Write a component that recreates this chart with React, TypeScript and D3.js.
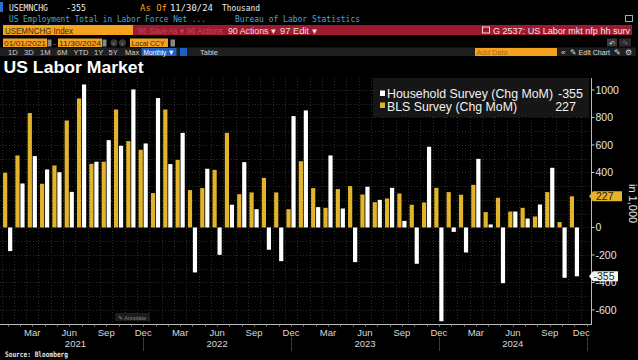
import React from "react";
import * as d3 from "d3";

const W = 638;
const H = 360;

// Categories (monthly, Jan 2021 – Nov 2024) and axis months (axis runs to Dec 2024)
const months = [
  "2021-01","2021-02","2021-03","2021-04","2021-05","2021-06","2021-07","2021-08","2021-09","2021-10","2021-11","2021-12",
  "2022-01","2022-02","2022-03","2022-04","2022-05","2022-06","2022-07","2022-08","2022-09","2022-10","2022-11","2022-12",
  "2023-01","2023-02","2023-03","2023-04","2023-05","2023-06","2023-07","2023-08","2023-09","2023-10","2023-11","2023-12",
  "2024-01","2024-02","2024-03","2024-04","2024-05","2024-06","2024-07","2024-08","2024-09","2024-10","2024-11",
];
const axisMonths = [...months, "2024-12"];

// Household Survey (Chg MoM), thousands
const household = [
  -172, 320, 519, 422, 402, 259, 1040, 478, 635, 594, 1004, 611,
  941, 461, 688, -327, 427, -199, 165, 475, 133, -162, -245, 810,
  851, 148, 524, 138, -252, 296, 201, 288, 48, -264, 587, -682,
  -32, -182, 499, 22, -405, 116, 65, 167, 434, -366, -355,
];

// BLS Survey (Chg MoM), thousands
const bls = [
  398, 524, 832, 318, 451, 778, 938, 463, 478, 858, 628, 565,
  250, 858, 492, 272, 286, 419, 688, 242, 255, 361, 255, 133,
  482, 286, 143, 279, 301, 240, 184, 211, 247, 165, 182, 288,
  257, 238, 310, 112, 216, 116, 143, 80, 257, 39, 227,
];

const yTicks = [1000, 800, 600, 400, 200, 0, -200, -400, -600];
const hiddenTickLabels = [200]; // covered by the last-value tag in the reference
const monthTickNames: Record<string, string> = { "03": "Mar", "06": "Jun", "09": "Sep", "12": "Dec" };
const years = ["2021", "2022", "2023", "2024"];

const lastHousehold = household[household.length - 1];
const lastBls = bls[bls.length - 1];

const YELLOW = "#E2B42A";
const ORANGE = "#F4A320";
const RED = "#9E1A2E";
const CYAN = "#4AA6D6";

export default function App() {
  const x = d3.scaleBand<string>().domain(axisMonths).range([1.5, 592.9]).paddingInner(0).paddingOuter(0);
  const y = d3.scaleLinear().domain([-702, 1087]).range([324, 78]);
  const axisX = 591;
  const plotTop = 78;
  const plotBottom = 324;
  const bw = 4.2;
  const cx = (m: string) => (x(m) as number) + x.bandwidth() / 2;

  const hGrid = d3.range(-700, 1100, 100);
  const vGrid = axisMonths.map((m) => x(m) as number);

  const fontSans = "'Liberation Sans', Arial, sans-serif";
  const fontMono = "'DejaVu Sans Mono', monospace";

  const pointerBox = (yy: number, w: number) =>
    `M${axisX - 2},${yy} L${axisX + 2},${yy - 5} L${axisX + 2 + w},${yy - 5} L${axisX + 2 + w},${yy + 5} L${axisX + 2},${yy + 5} Z`;

  return (
    <svg width={W} height={H} style={{ display: "block", position: "absolute", left: 0, top: 0, background: "#000" }}>
      <rect x={0} y={0} width={W} height={H} fill="#000" />

      {/* Header row 1 */}
      <rect x={0} y={2} width={3} height={10} fill="#2a6fd6" />
      <g fontFamily={fontMono} fontSize={9} fill="#eee">
        <text x={9} y={11} textLength={39} lengthAdjust="spacingAndGlyphs">USEMNCHG</text>
        <text x={66} y={11} textLength={20} lengthAdjust="spacingAndGlyphs">-355</text>
        <text x={140} y={11} textLength={27} lengthAdjust="spacingAndGlyphs" fill={ORANGE}>As Of</text>
        <text x={170} y={11} textLength={43} lengthAdjust="spacingAndGlyphs">11/30/24</text>
        <text x={222} y={11} textLength={38} lengthAdjust="spacingAndGlyphs">Thousand</text>
        <text x={9} y={22} textLength={197} lengthAdjust="spacingAndGlyphs" fill={CYAN}>US Employment Total in Labor Force Net ...</text>
        <text x={235} y={22} textLength={125} lengthAdjust="spacingAndGlyphs" fill={CYAN}>Bureau of Labor Statistics</text>
      </g>
      <rect x={625.5} y={15.5} width={7} height={6} fill="none" stroke="#aaa" strokeWidth={1} />

      {/* Header row 3 */}
      <rect x={3} y={25} width={130} height={10} fill={ORANGE} />
      <text x={5} y={33.5} fontFamily={fontSans} fontSize={9} fill="#3a2a10" textLength={68} lengthAdjust="spacingAndGlyphs">USEMNCHG Index</text>
      <rect x={133} y={25} width={499} height={10} fill={RED} />
      <text x={138} y={33.5} fontFamily={fontSans} fontSize={8.5} fill="#b84a5a" textLength={85} lengthAdjust="spacingAndGlyphs">96 Save As  ▾  96 Actions</text>
      <text x={228} y={33.5} fontFamily={fontSans} fontSize={8.5} fill="#f2dede" textLength={48} lengthAdjust="spacingAndGlyphs">90 Actions ▾</text>
      <text x={280} y={33.5} fontFamily={fontSans} fontSize={8.5} fill="#f2dede" textLength={37} lengthAdjust="spacingAndGlyphs">97 Edit ▾</text>
      <rect x={482.5} y={27} width={7} height={6} fill="none" stroke="#f2dede" strokeWidth={1} />
      <text x={493} y={33.5} fontFamily={fontSans} fontSize={8.5} fill="#f5e6e6" textLength={137} lengthAdjust="spacingAndGlyphs">G 2537: US Labor mkt nfp hh surv</text>

      {/* Header row 4 */}
      <rect x={3} y={38.5} width={44} height={8.5} fill={ORANGE} />
      <text x={4} y={45.5} fontFamily={fontSans} fontSize={8} fill="#3a2a10" textLength={42} lengthAdjust="spacingAndGlyphs">01/01/2021</text>
      <rect x={47.5} y={39.5} width={4} height={7} fill="#888" />
      <text x={53} y={45.5} fontFamily={fontSans} fontSize={8} fill="#aaa">-</text>
      <rect x={58} y={38.5} width={44} height={8.5} fill={ORANGE} />
      <text x={59} y={45.5} fontFamily={fontSans} fontSize={8} fill="#3a2a10" textLength={42} lengthAdjust="spacingAndGlyphs">11/30/2024</text>
      <rect x={102.5} y={39.5} width={4} height={7} fill="#888" />
      <circle cx={114} cy={42.8} r={3.6} fill="#3a3a3a" />
      <circle cx={122.5} cy={42.8} r={3.6} fill="#3a3a3a" />
      <text x={112.5} y={45.3} fontFamily={fontSans} fontSize={6} fill="#bbb">‹</text>
      <text x={121.2} y={45.3} fontFamily={fontSans} fontSize={6} fill="#bbb">›</text>
      <rect x={130} y={38.5} width={38} height={8.5} fill={ORANGE} />
      <text x={131.5} y={45.5} fontFamily={fontSans} fontSize={8} fill="#3a2a10" textLength={33} lengthAdjust="spacingAndGlyphs">Local CCY</text>
      <rect x={170.5} y={39.5} width={4.5} height={7} fill="#888" />
      <rect x={607} y={38.5} width={10} height={8} fill="#3a3a3a" />
      <rect x={619} y={38.5} width={12} height={8} fill="#2a2a2a" />
      <text x={609} y={45.5} fontFamily={fontSans} fontSize={7} fill="#ddd">↶</text>
      <text x={622} y={45.5} fontFamily={fontSans} fontSize={7} fill="#777">↷</text>

      {/* Header row 5 */}
      <rect x={0} y={47.5} width={636} height={8.5} fill="#1f1f1f" />
      <g fontFamily={fontSans} fontSize={7.5} fill="#cfcfcf">
        <text x={8} y={54.5}>1D</text>
        <text x={24} y={54.5}>3D</text>
        <text x={40} y={54.5}>1M</text>
        <text x={57} y={54.5}>6M</text>
        <text x={73.5} y={54.5}>YTD</text>
        <text x={94} y={54.5}>1Y</text>
        <text x={108.5} y={54.5}>5Y</text>
        <text x={125} y={54.5}>Max</text>
      </g>
      <rect x={141.5} y={48} width={35} height={8} fill="#1f5fc4" />
      <text x={143.5} y={54.5} fontFamily={fontSans} fontSize={7.5} fill="#fff" textLength={31} lengthAdjust="spacingAndGlyphs">Monthly ▼</text>
      <rect x={180} y={48} width={7} height={8} fill="#1f5fc4" />
      <text x={200} y={54.5} fontFamily={fontSans} fontSize={7.5} fill="#cfcfcf">Table</text>
      <rect x={475} y={48} width={82} height={8} fill={ORANGE} />
      <text x={476.5} y={54.5} fontFamily={fontSans} fontSize={7.5} fill="#b06a10">Add Data</text>
      <text x={561} y={54.5} fontFamily={fontSans} fontSize={8} fill="#ddd">«</text>
      <text x={570} y={54.5} fontFamily={fontSans} fontSize={7.5} fill="#ddd" textLength={40} lengthAdjust="spacingAndGlyphs">✎ Edit Chart</text>
      <text x={614} y={54.5} fontFamily={fontSans} fontSize={7.5} fill="#ddd">✎</text>
      <text x={625} y={54.5} fontFamily={fontSans} fontSize={7.5} fill="#ddd">⚙</text>

      {/* Title */}
      <text x={3.5} y={73} fontFamily={fontSans} fontWeight="bold" fontSize={17} fill="#fff" textLength={140} lengthAdjust="spacingAndGlyphs">US Labor Market</text>

      {/* Grid */}
      <g stroke="#2c2c2c" strokeWidth={1} strokeDasharray="1,2">
        {hGrid.map((v) => (
          <line key={"h" + v} x1={0} x2={axisX} y1={Math.round(y(v)) + 0.5} y2={Math.round(y(v)) + 0.5} />
        ))}
        {vGrid.map((vx, i) => (
          <line key={"v" + i} x1={Math.round(vx) + 0.5} x2={Math.round(vx) + 0.5} y1={plotTop} y2={plotBottom} />
        ))}
      </g>

      {/* Bars */}
      {months.map((m, i) => {
        const c = cx(m);
        const vb = bls[i];
        const vh = household[i];
        return (
          <g key={m}>
            <rect x={c - 4.6} width={bw} y={Math.min(y(vb), y(0))} height={Math.abs(y(vb) - y(0))} fill={YELLOW} />
            <rect x={c + 0.4} width={bw} y={Math.min(y(vh), y(0))} height={Math.abs(y(vh) - y(0))} fill="#ffffff" />
          </g>
        );
      })}

      {/* Annotate button */}
      <rect x={115} y={313} width={35} height={8} fill="#1c1c1c" />
      <text x={118} y={319.5} fontFamily={fontSans} fontSize={5.5} fill="#888">✎ Annotate</text>

      {/* Axes */}
      <line x1={0} x2={axisX} y1={plotBottom + 0.5} y2={plotBottom + 0.5} stroke="#bbb" strokeWidth={1} />
      <line x1={axisX + 0.5} x2={axisX + 0.5} y1={plotTop} y2={plotBottom + 1} stroke="#bbb" strokeWidth={1} />
      {axisMonths.map((m) => (
        <line key={"t" + m} x1={Math.round(cx(m)) + 0.5} x2={Math.round(cx(m)) + 0.5} y1={plotBottom} y2={plotBottom + 2.5} stroke="#888" />
      ))}
      {axisMonths.filter((m) => m.endsWith("-12")).map((m) => (
        <line key={"ys" + m} x1={Math.round(cx(m)) + 0.5} x2={Math.round(cx(m)) + 0.5} y1={337} y2={351} stroke="#3c3c3c" />
      ))}
      <g fontFamily={fontSans} fontSize={9.5} fill="#d8d8d8" textAnchor="middle">
        {axisMonths.filter((m) => monthTickNames[m.slice(5)]).map((m) => (
          <text key={"ml" + m} x={Math.min(cx(m), 581.3)} y={336}>{monthTickNames[m.slice(5)]}</text>
        ))}
        {years.map((yr, i) => {
          const anchor = i === 0 ? (x(yr + "-07") as number) : cx(yr + "-06");
          return <text key={yr} x={anchor} y={346.5}>{yr}</text>;
        })}
      </g>

      {/* Right axis */}
      <g fontFamily={fontSans} fontSize={10.5} fill="#e6e6e6">
        {yTicks.map((v) => (
          <g key={"yt" + v}>
            <line x1={axisX} x2={axisX + 3.5} y1={y(v)} y2={y(v)} stroke="#ccc" />
            {hiddenTickLabels.includes(v) ? null : <text x={595.5} y={y(v) + 3.8}>{v}</text>}
          </g>
        ))}
      </g>
      <text transform={`translate(628.5,184) rotate(90)`} fontFamily={fontSans} fontSize={11} fill="#e6e6e6">in 1,000</text>

      {/* Last value tags */}
      <path d={pointerBox(y(lastBls), 29)} fill={YELLOW} />
      <text x={596} y={y(lastBls) + 3.8} fontFamily={fontSans} fontSize={10.5} fill="#2a2000">{lastBls}</text>
      <path d={pointerBox(y(lastHousehold), 25)} fill="#f4f4f4" />
      <text x={593.5} y={y(lastHousehold) + 3.8} fontFamily={fontSans} fontSize={10.5} fill="#222">{lastHousehold}</text>

      {/* Legend */}
      <rect x={373} y={78} width={216} height={39} fill="#161616" />
      <rect x={380} y={90.5} width={5} height={5.5} fill="#fff" />
      <rect x={380} y={102.5} width={5} height={5.5} fill={YELLOW} />
      <g fontFamily={fontSans} fontSize={12.5} fill="#f2f2f2">
        <text x={387} y={98} textLength={166} lengthAdjust="spacingAndGlyphs">Household Survey (Chg MoM)</text>
        <text x={583} y={98} textAnchor="end">{lastHousehold}</text>
        <text x={387} y={111} textLength={130} lengthAdjust="spacingAndGlyphs">BLS Survey (Chg MoM)</text>
        <text x={576} y={111} textAnchor="end">{lastBls}</text>
      </g>

      {/* Source */}
      <text x={5} y={357} fontFamily={fontMono} fontWeight="bold" fontSize={7.5} fill="#e6e6e6" textLength={63} lengthAdjust="spacingAndGlyphs">Source: Bloomberg</text>
    </svg>
  );
}
